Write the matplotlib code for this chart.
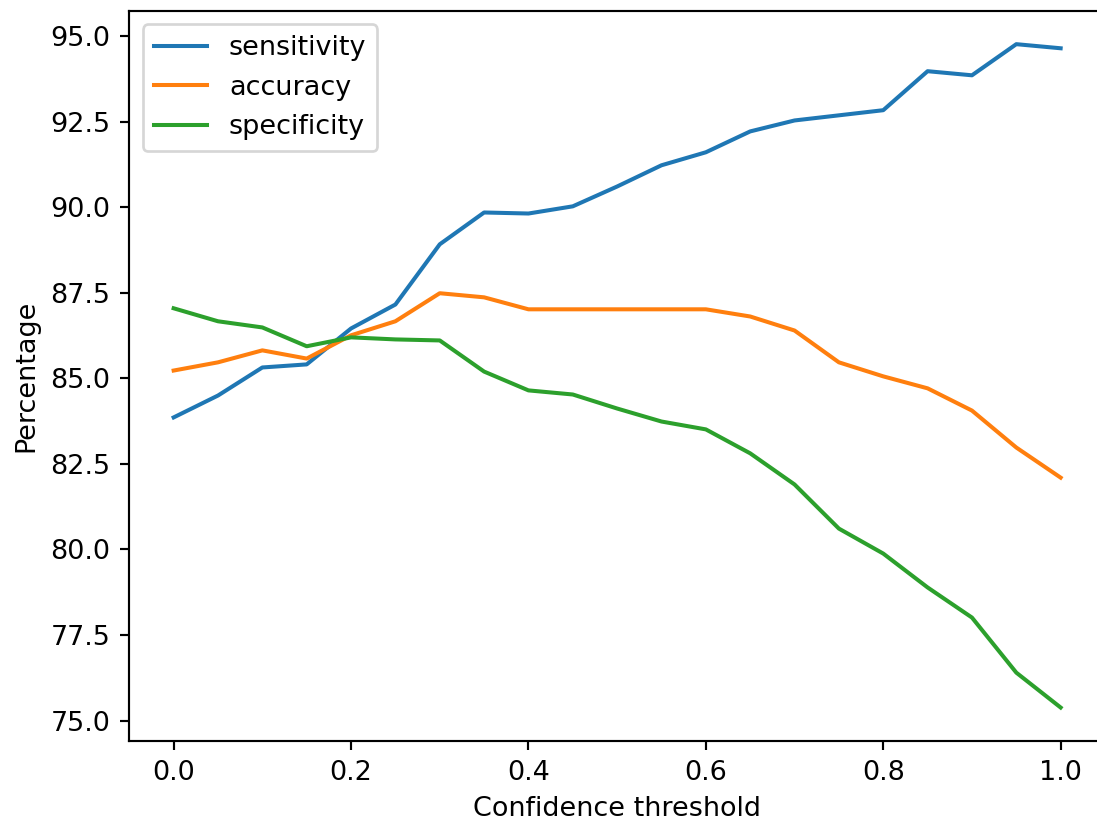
import numpy as np
import matplotlib.pyplot as plt

thresholds = np.round(np.arange(0, 1.0001, 0.05), 2)

sensitivity = [83.86, 84.50, 85.32, 85.41, 86.46, 87.16, 88.92, 89.85, 89.82, 90.03,
               90.61, 91.23, 91.61, 92.22, 92.54, 92.69, 92.84, 93.98, 93.86, 94.77, 94.65]
accuracy = [85.23, 85.47, 85.82, 85.58, 86.26, 86.67, 87.49, 87.37, 87.02, 87.02,
            87.02, 87.02, 87.02, 86.81, 86.40, 85.47, 85.06, 84.71, 84.06, 82.98, 82.10]
specificity = [87.05, 86.67, 86.49, 85.94, 86.20, 86.14, 86.11, 85.20, 84.65, 84.53,
               84.12, 83.74, 83.51, 82.81, 81.90, 80.61, 79.88, 78.89, 78.01, 76.40, 75.38]

dpi = 194
fig = plt.figure(figsize=(1097 / dpi, 823 / dpi), dpi=dpi)
# axes run past the right edge, as in the cropped original
ax = fig.add_axes([129.3 / 1097, 1 - 740.7 / 823, 975.7 / 1097, 729.7 / 823])

ax.plot(thresholds, sensitivity, label='sensitivity')
ax.plot(thresholds, accuracy, label='accuracy')
ax.plot(thresholds, specificity, label='specificity')

ax.set_xlabel('Confidence threshold')
ax.set_ylabel('Percentage')
ax.legend(loc='upper left')

fig.savefig('out.png', dpi=dpi)
